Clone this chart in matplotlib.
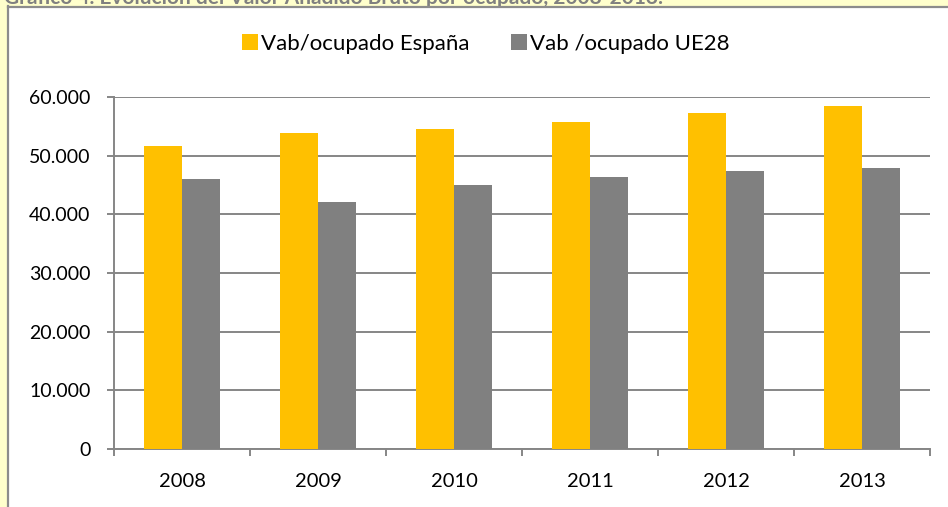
import matplotlib
matplotlib.use("Agg")
import matplotlib.pyplot as plt
import matplotlib.patches as patches
import numpy as np

# Data
years = ["2008", "2009", "2010", "2011", "2012", "2013"]
vab_espana = [51600, 53900, 54500, 55800, 57300, 58500]
vab_ue28 = [46000, 42050, 44950, 46350, 47450, 47850]
series_labels = ["Vab/ocupado España", "Vab /ocupado UE28"]
yticks = [0, 10000, 20000, 30000, 40000, 50000, 60000]
title = "Gráfico 4. Evolución del Valor Añadido Bruto por ocupado, 2008-2013."

W, H, DPI = 948, 507, 100
YELLOW = "#FFFFCC"
ORANGE = "#FFC000"
GREY = "#808080"
GRID = "#868686"
FONT = ["Lato", "DejaVu Sans"]

plt.rcParams["font.family"] = FONT

fig = plt.figure(figsize=(W / DPI, H / DPI), dpi=DPI, facecolor="white")

# yellow page strips (left and top) with the caption, clipped at the top like the source
fig.patches.append(patches.Rectangle((0, 0), 7 / W, 1, transform=fig.transFigure,
                                     facecolor=YELLOW, edgecolor="none", zorder=0))
fig.patches.append(patches.Rectangle((0, 1 - 6 / H), 1, 6 / H, transform=fig.transFigure,
                                     facecolor=YELLOW, edgecolor="none", zorder=0))
fig.text(4 / W, 1 - 4 / H, title, ha="left", va="baseline", fontsize=15,
         fontweight="bold", color=GREY, zorder=1)
# chart frame border
fig.add_artist(plt.Line2D([7.5 / W, 7.5 / W], [0, 1 - 6 / H], transform=fig.transFigure,
                          color="#8C8C8C", linewidth=1.6))
fig.add_artist(plt.Line2D([7.5 / W, 1], [1 - 6.5 / H, 1 - 6.5 / H], transform=fig.transFigure,
                          color="#8C8C8C", linewidth=1.6))

ax = fig.add_axes([114 / W, (H - 449) / H, 816 / W, 352 / H])
x = np.arange(len(years))
bw = 0.283
ax.bar(x - bw / 2, vab_espana, width=bw, color=ORANGE, label=series_labels[0], zorder=3)
ax.bar(x + bw / 2, vab_ue28, width=bw, color=GREY, label=series_labels[1], zorder=3)

ax.set_xlim(-0.5, len(years) - 0.5)
ax.set_ylim(0, 60000)
ax.set_yticks(yticks)
ax.set_yticklabels([f"{v:,}".replace(",", ".") for v in yticks])
ax.set_xticks(x)
ax.set_xticklabels(years)
ax.set_xticks(np.arange(len(years) + 1) - 0.5, minor=True)

ax.yaxis.grid(True, color=GRID, linewidth=1.4, zorder=0)
ax.set_axisbelow(True)
for side in ("top", "right"):
    ax.spines[side].set_visible(False)
for side in ("left", "bottom"):
    ax.spines[side].set_color(GRID)
    ax.spines[side].set_linewidth(1.4)

ax.tick_params(axis="y", length=5, width=1.4, color=GRID, labelsize=14, pad=12)
ax.tick_params(axis="x", which="major", length=0, labelsize=14.5, pad=17)
ax.tick_params(axis="x", which="minor", length=5, width=1.4, color=GRID)

leg = fig.legend(loc="center", bbox_to_anchor=(486 / W, 1 - 44 / H), ncol=2,
                 frameon=False, fontsize=16, handlelength=0.7, handleheight=0.7,
                 handletextpad=0.15, columnspacing=1.85)

plt.savefig("out.png", dpi=DPI, facecolor="white")
